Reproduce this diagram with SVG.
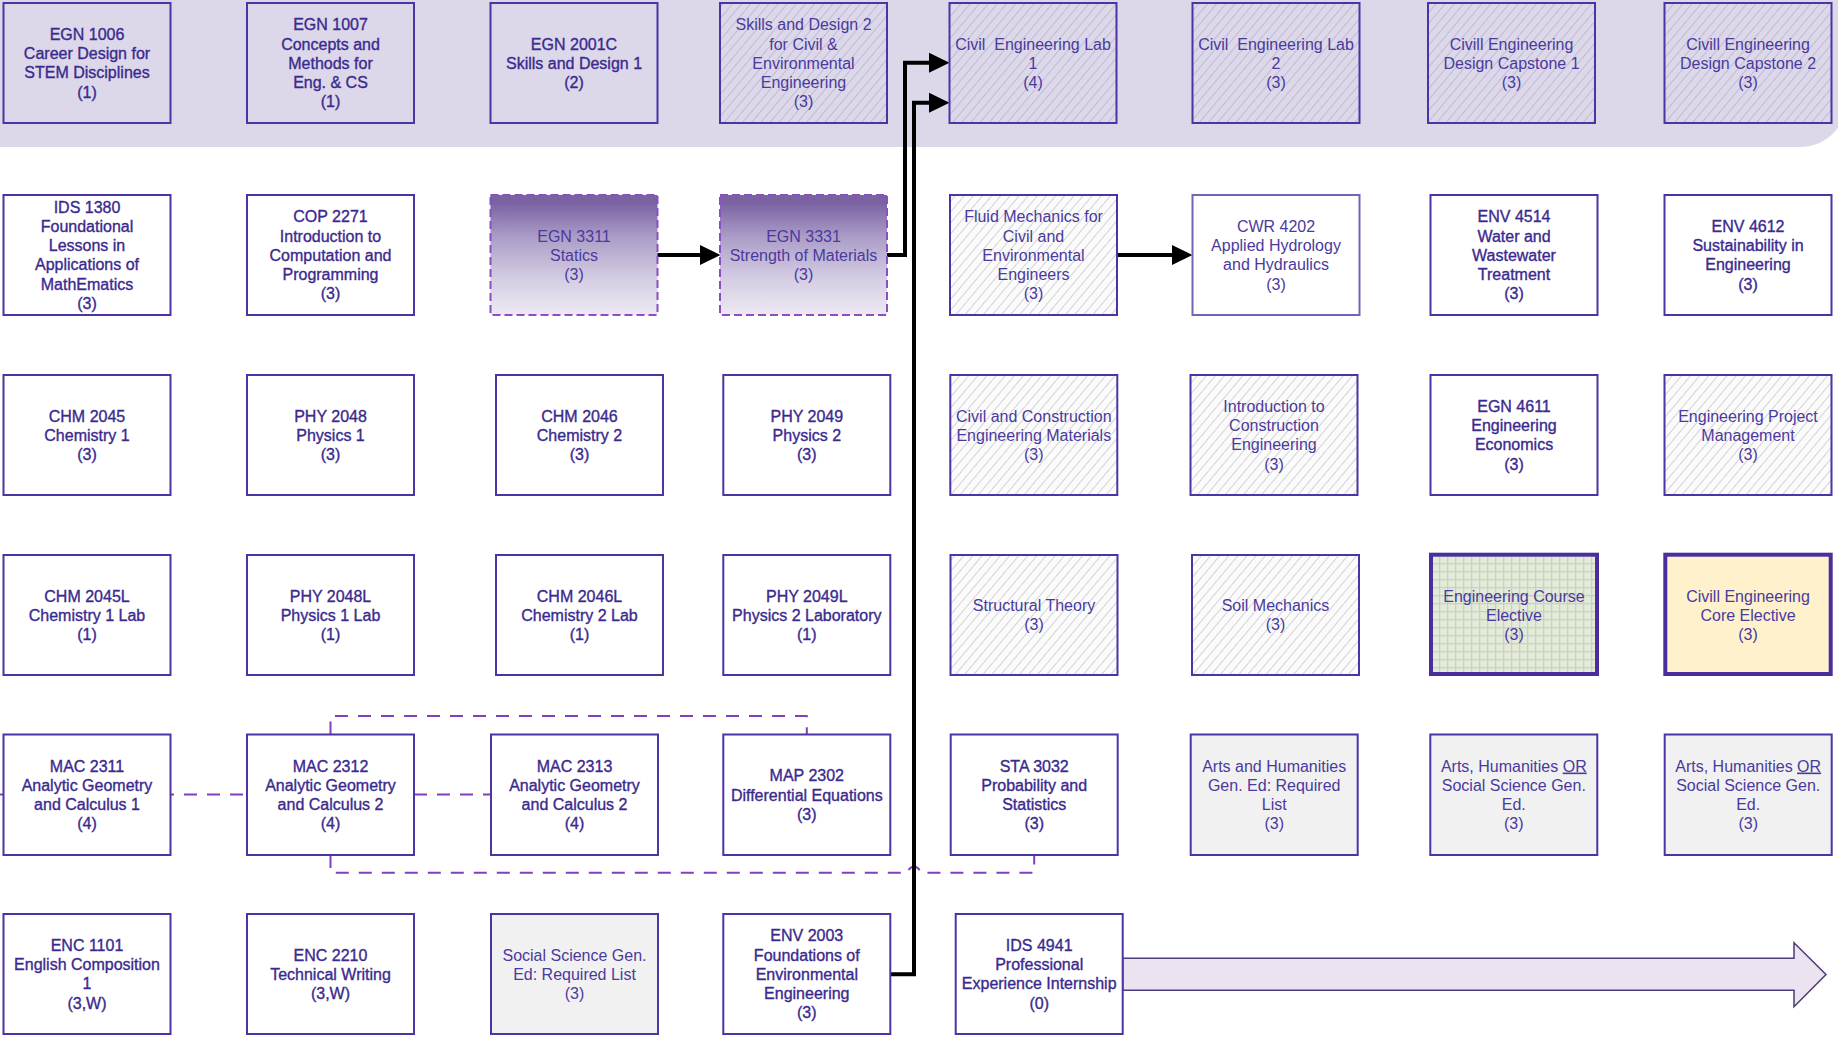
<svg xmlns="http://www.w3.org/2000/svg" width="1838" height="1037" viewBox="0 0 1838 1037">
<style>
text{font-family:"Liberation Sans",Arial,sans-serif;font-size:16px;text-anchor:middle}
.d{fill:#3b2a8e;stroke:#3b2a8e;stroke-width:0.35}
.l{fill:#4a3a9e}
.b{stroke:#4d33a3;stroke-width:2}
.wh{fill:#ffffff}
.bd{fill:#dcd8ea}
.hb{fill:url(#hb)}
.hw{fill:url(#hw)}
.gy{fill:#f1f1f1}
.gr{fill:url(#gd);stroke:#8a4fc0;stroke-width:2;stroke-dasharray:8 4}
.tk{stroke:#4a2f9c;stroke-width:4}
.cn{fill:none;stroke:#000;stroke-width:4;stroke-linejoin:miter}
.dc{fill:none;stroke:#8040bb;stroke-width:2;stroke-dasharray:13 10}
</style>
<defs>
<pattern id="hb" patternUnits="userSpaceOnUse" width="7" height="7" patternTransform="rotate(40)">
<rect width="7" height="7" fill="#dcd8ea"/>
<line x1="3.5" y1="0" x2="3.5" y2="7" stroke="#c0bbd1" stroke-width="1"/>
</pattern>
<pattern id="hw" patternUnits="userSpaceOnUse" width="7" height="7" patternTransform="rotate(40)">
<rect width="7" height="7" fill="#fbfbfb"/>
<line x1="3.5" y1="0" x2="3.5" y2="7" stroke="#d3d3d3" stroke-width="1"/>
</pattern>
<pattern id="grid" patternUnits="userSpaceOnUse" width="8" height="8" x="1431" y="555">
<rect width="8" height="8" fill="#e2ebd6"/>
<path d="M0,0.6 H8 M0.6,0 V8" stroke="#cbcbd3" stroke-width="1.3" fill="none"/>
</pattern>
<linearGradient id="gd" x1="0" y1="0" x2="0" y2="1">
<stop offset="0" stop-color="#7a62a2"/>
<stop offset="0.07" stop-color="#7b63a3"/>
<stop offset="0.35" stop-color="#ab9dc7"/>
<stop offset="0.7" stop-color="#d5cde3"/>
<stop offset="1" stop-color="#ede9f3"/>
</linearGradient>
<marker id="ah" markerUnits="userSpaceOnUse" markerWidth="21" markerHeight="21" refX="0" refY="10" orient="auto" viewBox="0 0 21 20">
<path d="M0,0 L20.5,10 L0,20 Z" fill="#000"/>
</marker>
</defs>

<g id="band">
<path d="M0,0 H1838 V127.7 A47,47 0 0 1 1800,147 H0 Z" fill="#dcd8ea"/>
</g>

<g id="connectors">
<path class="dc" d="M0,794.5 H247"/>
<path class="dc" d="M414,794.5 H491"/>
<path class="dc" d="M330.5,734.5 V716 H806.8 V734.5"/>
<path class="dc" d="M330.5,855 V872.7 H908 A6,6 0 0 1 920,872.7 H1034.2 V855"/>
<path class="cn" d="M658,255 H700" marker-end="url(#ah)" stroke-linecap="round"/>
<path class="cn" d="M887,255 H905 V62.7 H929" marker-end="url(#ah)"/>
<path class="cn" d="M890,974.3 H914 V102.7 H929" marker-end="url(#ah)"/>
<path class="cn" d="M1116.5,255 H1172" marker-end="url(#ah)"/>
</g>

<g id="progress-arrow">
<path d="M1122.7,958.3 H1794 V942.7 L1826,974.5 L1794,1006.7 V990.3 H1122.7 Z" fill="#ebe4f0" stroke="#4e3a78" stroke-width="1.5"/>
</g>

<!-- Row 1 -->
<g id="egn1006"><rect class="b bd" x="3.5" y="3" width="167" height="120"/>
<text class="d" x="87" y="39.85"><tspan x="87">EGN 1006</tspan><tspan x="87" dy="19.3">Career Design for</tspan><tspan x="87" dy="19.3">STEM Disciplines</tspan><tspan x="87" dy="19.3">(1)</tspan></text></g>
<g id="egn1007"><rect class="b bd" x="247" y="3" width="167" height="120"/>
<text class="d" x="330.5" y="30.2"><tspan x="330.5">EGN 1007</tspan><tspan x="330.5" dy="19.3">Concepts and</tspan><tspan x="330.5" dy="19.3">Methods for</tspan><tspan x="330.5" dy="19.3">Eng. &amp; CS</tspan><tspan x="330.5" dy="19.3">(1)</tspan></text></g>
<g id="egn2001c"><rect class="b bd" x="490.5" y="3" width="167" height="120"/>
<text class="d" x="574" y="49.5"><tspan x="574">EGN 2001C</tspan><tspan x="574" dy="19.3">Skills and Design 1</tspan><tspan x="574" dy="19.3">(2)</tspan></text></g>
<g id="skills2"><rect class="b hb" x="720" y="3" width="167" height="120"/>
<text class="l" x="803.5" y="30.2"><tspan x="803.5">Skills and Design 2</tspan><tspan x="803.5" dy="19.3">for Civil &amp;</tspan><tspan x="803.5" dy="19.3">Environmental</tspan><tspan x="803.5" dy="19.3">Engineering</tspan><tspan x="803.5" dy="19.3">(3)</tspan></text></g>
<g id="lab1"><rect class="b hb" x="949.5" y="3" width="167" height="120"/>
<text class="l" x="1033" y="49.5"><tspan x="1033">Civil&#160; Engineering Lab</tspan><tspan x="1033" dy="19.3">1</tspan><tspan x="1033" dy="19.3">(4)</tspan></text></g>
<g id="lab2"><rect class="b hb" x="1192.5" y="3" width="167" height="120"/>
<text class="l" x="1276" y="49.5"><tspan x="1276">Civil&#160; Engineering Lab</tspan><tspan x="1276" dy="19.3">2</tspan><tspan x="1276" dy="19.3">(3)</tspan></text></g>
<g id="capstone1"><rect class="b hb" x="1428" y="3" width="167" height="120"/>
<text class="l" x="1511.5" y="49.5"><tspan x="1511.5">Civill Engineering</tspan><tspan x="1511.5" dy="19.3">Design Capstone 1</tspan><tspan x="1511.5" dy="19.3">(3)</tspan></text></g>
<g id="capstone2"><rect class="b hb" x="1664.5" y="3" width="167" height="120"/>
<text class="l" x="1748" y="49.5"><tspan x="1748">Civill Engineering</tspan><tspan x="1748" dy="19.3">Design Capstone 2</tspan><tspan x="1748" dy="19.3">(3)</tspan></text></g>

<!-- Row 2 -->
<g id="ids1380"><rect class="b wh" x="3.5" y="195" width="167" height="120"/>
<text class="d" x="87" y="212.55"><tspan x="87">IDS 1380</tspan><tspan x="87" dy="19.3">Foundational</tspan><tspan x="87" dy="19.3">Lessons in</tspan><tspan x="87" dy="19.3">Applications of</tspan><tspan x="87" dy="19.3">MathEmatics</tspan><tspan x="87" dy="19.3">(3)</tspan></text></g>
<g id="cop2271"><rect class="b wh" x="247" y="195" width="167" height="120"/>
<text class="d" x="330.5" y="222.2"><tspan x="330.5">COP 2271</tspan><tspan x="330.5" dy="19.3">Introduction to</tspan><tspan x="330.5" dy="19.3">Computation and</tspan><tspan x="330.5" dy="19.3">Programming</tspan><tspan x="330.5" dy="19.3">(3)</tspan></text></g>
<g id="egn3311"><rect class="gr" x="490.5" y="195" width="167" height="120"/>
<text class="l" x="574" y="241.5"><tspan x="574">EGN 3311</tspan><tspan x="574" dy="19.3">Statics</tspan><tspan x="574" dy="19.3">(3)</tspan></text></g>
<g id="egn3331"><rect class="gr" x="720" y="195" width="167" height="120"/>
<text class="l" x="803.5" y="241.5"><tspan x="803.5">EGN 3331</tspan><tspan x="803.5" dy="19.3">Strength of Materials</tspan><tspan x="803.5" dy="19.3">(3)</tspan></text></g>
<g id="fluid"><rect class="b hw" x="950" y="195" width="167" height="120"/>
<text class="l" x="1033.5" y="222.2"><tspan x="1033.5">Fluid Mechanics for</tspan><tspan x="1033.5" dy="19.3">Civil and</tspan><tspan x="1033.5" dy="19.3">Environmental</tspan><tspan x="1033.5" dy="19.3">Engineers</tspan><tspan x="1033.5" dy="19.3">(3)</tspan></text></g>
<g id="cwr4202"><rect class="wh" x="1192.5" y="195" width="167" height="120" stroke="#7563b8" stroke-width="2"/>
<text class="l" x="1276" y="231.85"><tspan x="1276">CWR 4202</tspan><tspan x="1276" dy="19.3">Applied Hydrology</tspan><tspan x="1276" dy="19.3">and Hydraulics</tspan><tspan x="1276" dy="19.3">(3)</tspan></text></g>
<g id="env4514"><rect class="b wh" x="1430.5" y="195" width="167" height="120"/>
<text class="d" x="1514" y="222.2"><tspan x="1514">ENV 4514</tspan><tspan x="1514" dy="19.3">Water and</tspan><tspan x="1514" dy="19.3">Wastewater</tspan><tspan x="1514" dy="19.3">Treatment</tspan><tspan x="1514" dy="19.3">(3)</tspan></text></g>
<g id="env4612"><rect class="b wh" x="1664.5" y="195" width="167" height="120"/>
<text class="d" x="1748" y="231.85"><tspan x="1748">ENV 4612</tspan><tspan x="1748" dy="19.3">Sustainability in</tspan><tspan x="1748" dy="19.3">Engineering</tspan><tspan x="1748" dy="19.3">(3)</tspan></text></g>

<!-- Row 3 -->
<g id="chm2045"><rect class="b wh" x="3.5" y="375" width="167" height="120"/>
<text class="d" x="87" y="421.5"><tspan x="87">CHM 2045</tspan><tspan x="87" dy="19.3">Chemistry 1</tspan><tspan x="87" dy="19.3">(3)</tspan></text></g>
<g id="phy2048"><rect class="b wh" x="247" y="375" width="167" height="120"/>
<text class="d" x="330.5" y="421.5"><tspan x="330.5">PHY 2048</tspan><tspan x="330.5" dy="19.3">Physics 1</tspan><tspan x="330.5" dy="19.3">(3)</tspan></text></g>
<g id="chm2046"><rect class="b wh" x="496" y="375" width="167" height="120"/>
<text class="d" x="579.5" y="421.5"><tspan x="579.5">CHM 2046</tspan><tspan x="579.5" dy="19.3">Chemistry 2</tspan><tspan x="579.5" dy="19.3">(3)</tspan></text></g>
<g id="phy2049"><rect class="b wh" x="723.3" y="375" width="167" height="120"/>
<text class="d" x="806.8" y="421.5"><tspan x="806.8">PHY 2049</tspan><tspan x="806.8" dy="19.3">Physics 2</tspan><tspan x="806.8" dy="19.3">(3)</tspan></text></g>
<g id="materials"><rect class="b hw" x="950.3" y="375" width="167" height="120"/>
<text class="l" x="1033.8" y="421.5"><tspan x="1033.8">Civil and Construction</tspan><tspan x="1033.8" dy="19.3">Engineering Materials</tspan><tspan x="1033.8" dy="19.3">(3)</tspan></text></g>
<g id="construction"><rect class="b hw" x="1190.5" y="375" width="167" height="120"/>
<text class="l" x="1274" y="411.85"><tspan x="1274">Introduction to</tspan><tspan x="1274" dy="19.3">Construction</tspan><tspan x="1274" dy="19.3">Engineering</tspan><tspan x="1274" dy="19.3">(3)</tspan></text></g>
<g id="egn4611"><rect class="b wh" x="1430.5" y="375" width="167" height="120"/>
<text class="d" x="1514" y="411.85"><tspan x="1514">EGN 4611</tspan><tspan x="1514" dy="19.3">Engineering</tspan><tspan x="1514" dy="19.3">Economics</tspan><tspan x="1514" dy="19.3">(3)</tspan></text></g>
<g id="projmgmt"><rect class="b hw" x="1664.5" y="375" width="167" height="120"/>
<text class="l" x="1748" y="421.5"><tspan x="1748">Engineering Project</tspan><tspan x="1748" dy="19.3">Management</tspan><tspan x="1748" dy="19.3">(3)</tspan></text></g>

<!-- Row 4 -->
<g id="chm2045l"><rect class="b wh" x="3.5" y="555" width="167" height="120"/>
<text class="d" x="87" y="601.5"><tspan x="87">CHM 2045L</tspan><tspan x="87" dy="19.3">Chemistry 1 Lab</tspan><tspan x="87" dy="19.3">(1)</tspan></text></g>
<g id="phy2048l"><rect class="b wh" x="247" y="555" width="167" height="120"/>
<text class="d" x="330.5" y="601.5"><tspan x="330.5">PHY 2048L</tspan><tspan x="330.5" dy="19.3">Physics 1 Lab</tspan><tspan x="330.5" dy="19.3">(1)</tspan></text></g>
<g id="chm2046l"><rect class="b wh" x="496" y="555" width="167" height="120"/>
<text class="d" x="579.5" y="601.5"><tspan x="579.5">CHM 2046L</tspan><tspan x="579.5" dy="19.3">Chemistry 2 Lab</tspan><tspan x="579.5" dy="19.3">(1)</tspan></text></g>
<g id="phy2049l"><rect class="b wh" x="723.3" y="555" width="167" height="120"/>
<text class="d" x="806.8" y="601.5"><tspan x="806.8">PHY 2049L</tspan><tspan x="806.8" dy="19.3">Physics 2 Laboratory</tspan><tspan x="806.8" dy="19.3">(1)</tspan></text></g>
<g id="structural"><rect class="b hw" x="950.5" y="555" width="167" height="120"/>
<text class="l" x="1034" y="611.15"><tspan x="1034">Structural Theory</tspan><tspan x="1034" dy="19.3">(3)</tspan></text></g>
<g id="soil"><rect class="b hw" x="1192" y="555" width="167" height="120"/>
<text class="l" x="1275.5" y="611.15"><tspan x="1275.5">Soil Mechanics</tspan><tspan x="1275.5" dy="19.3">(3)</tspan></text></g>
<g id="engelective"><rect class="tk" fill="url(#grid)" x="1431" y="554.7" width="166" height="119.3"/>
<text class="l" x="1514" y="601.5"><tspan x="1514">Engineering Course</tspan><tspan x="1514" dy="19.3">Elective</tspan><tspan x="1514" dy="19.3">(3)</tspan></text></g>
<g id="coreelective"><rect class="tk" fill="#fff1cc" x="1665.3" y="554.7" width="165.4" height="119.3"/>
<text class="l" x="1748" y="601.5"><tspan x="1748">Civill Engineering</tspan><tspan x="1748" dy="19.3">Core Elective</tspan><tspan x="1748" dy="19.3">(3)</tspan></text></g>

<!-- Row 5 -->
<g id="mac2311"><rect class="b wh" x="3.5" y="734.5" width="167" height="120.5"/>
<text class="d" x="87" y="771.55"><tspan x="87">MAC 2311</tspan><tspan x="87" dy="19.3">Analytic Geometry</tspan><tspan x="87" dy="19.3">and Calculus 1</tspan><tspan x="87" dy="19.3">(4)</tspan></text></g>
<g id="mac2312"><rect class="b wh" x="247" y="734.5" width="167" height="120.5"/>
<text class="d" x="330.5" y="771.55"><tspan x="330.5">MAC 2312</tspan><tspan x="330.5" dy="19.3">Analytic Geometry</tspan><tspan x="330.5" dy="19.3">and Calculus 2</tspan><tspan x="330.5" dy="19.3">(4)</tspan></text></g>
<g id="mac2313"><rect class="b wh" x="491" y="734.5" width="167" height="120.5"/>
<text class="d" x="574.5" y="771.55"><tspan x="574.5">MAC 2313</tspan><tspan x="574.5" dy="19.3">Analytic Geometry</tspan><tspan x="574.5" dy="19.3">and Calculus 2</tspan><tspan x="574.5" dy="19.3">(4)</tspan></text></g>
<g id="map2302"><rect class="b wh" x="723.3" y="734.5" width="167" height="120.5"/>
<text class="d" x="806.8" y="781.2"><tspan x="806.8">MAP 2302</tspan><tspan x="806.8" dy="19.3">Differential Equations</tspan><tspan x="806.8" dy="19.3">(3)</tspan></text></g>
<g id="sta3032"><rect class="b wh" x="950.7" y="734.5" width="167" height="120.5"/>
<text class="d" x="1034.2" y="771.55"><tspan x="1034.2">STA 3032</tspan><tspan x="1034.2" dy="19.3">Probability and</tspan><tspan x="1034.2" dy="19.3">Statistics</tspan><tspan x="1034.2" dy="19.3">(3)</tspan></text></g>
<g id="artshum"><rect class="b gy" x="1190.7" y="734.5" width="167" height="120.5"/>
<text class="l" x="1274.2" y="771.55"><tspan x="1274.2">Arts and Humanities</tspan><tspan x="1274.2" dy="19.3">Gen. Ed: Required</tspan><tspan x="1274.2" dy="19.3">List</tspan><tspan x="1274.2" dy="19.3">(3)</tspan></text></g>
<g id="artsor1"><rect class="b gy" x="1430.3" y="734.5" width="167" height="120.5"/>
<text class="l" x="1513.8" y="771.55"><tspan x="1513.8">Arts, Humanities <tspan text-decoration="underline">OR</tspan></tspan><tspan x="1513.8" dy="19.3">Social Science Gen.</tspan><tspan x="1513.8" dy="19.3">Ed.</tspan><tspan x="1513.8" dy="19.3">(3)</tspan></text></g>
<g id="artsor2"><rect class="b gy" x="1664.7" y="734.5" width="167" height="120.5"/>
<text class="l" x="1748.2" y="771.55"><tspan x="1748.2">Arts, Humanities <tspan text-decoration="underline">OR</tspan></tspan><tspan x="1748.2" dy="19.3">Social Science Gen.</tspan><tspan x="1748.2" dy="19.3">Ed.</tspan><tspan x="1748.2" dy="19.3">(3)</tspan></text></g>

<!-- Row 6 -->
<g id="enc1101"><rect class="b wh" x="3.5" y="914" width="167" height="120"/>
<text class="d" x="87" y="950.85"><tspan x="87">ENC 1101</tspan><tspan x="87" dy="19.3">English Composition</tspan><tspan x="87" dy="19.3">1</tspan><tspan x="87" dy="19.3">(3,W)</tspan></text></g>
<g id="enc2210"><rect class="b wh" x="247" y="914" width="167" height="120"/>
<text class="d" x="330.5" y="960.5"><tspan x="330.5">ENC 2210</tspan><tspan x="330.5" dy="19.3">Technical Writing</tspan><tspan x="330.5" dy="19.3">(3,W)</tspan></text></g>
<g id="socsci"><rect class="b gy" x="491" y="914" width="167" height="120"/>
<text class="l" x="574.5" y="960.5"><tspan x="574.5">Social Science Gen.</tspan><tspan x="574.5" dy="19.3">Ed: Required List</tspan><tspan x="574.5" dy="19.3">(3)</tspan></text></g>
<g id="env2003"><rect class="b wh" x="723.3" y="914" width="167" height="120"/>
<text class="d" x="806.8" y="941.2"><tspan x="806.8">ENV 2003</tspan><tspan x="806.8" dy="19.3">Foundations of</tspan><tspan x="806.8" dy="19.3">Environmental</tspan><tspan x="806.8" dy="19.3">Engineering</tspan><tspan x="806.8" dy="19.3">(3)</tspan></text></g>
<g id="ids4941"><rect class="b wh" x="955.7" y="914" width="167" height="120"/>
<text class="d" x="1039.2" y="950.85"><tspan x="1039.2">IDS 4941</tspan><tspan x="1039.2" dy="19.3">Professional</tspan><tspan x="1039.2" dy="19.3">Experience Internship</tspan><tspan x="1039.2" dy="19.3">(0)</tspan></text></g>
</svg>
